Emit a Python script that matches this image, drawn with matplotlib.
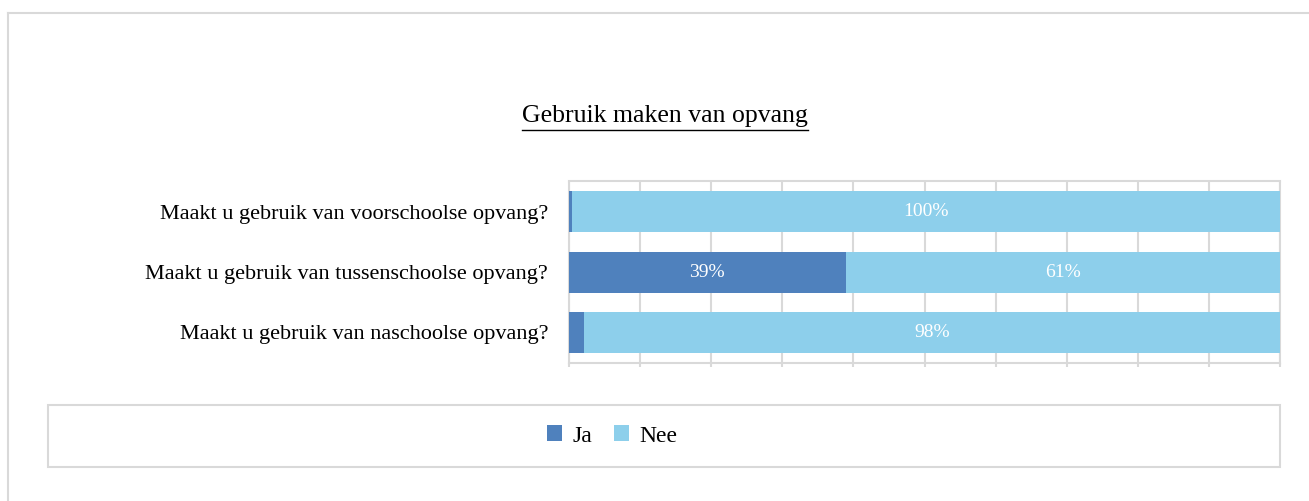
import matplotlib.pyplot as plt
from matplotlib.lines import Line2D
from matplotlib.patches import Rectangle

plt.rcParams['font.family'] = ['Liberation Serif', 'DejaVu Serif']

vragen = ['Maakt u gebruik van voorschoolse opvang?',
          'Maakt u gebruik van tussenschoolse opvang?',
          'Maakt u gebruik van naschoolse opvang?']
ja = [0.4, 38.9, 2.1]
nee = [99.6, 61.1, 97.9]
series = ['Ja', 'Nee']
kleuren = ['#4F81BD', '#8DCFEB']
grijs = '#D9D9D9'

W, H = 1309, 501
fig = plt.figure(figsize=(W / 100, H / 100), dpi=100)

def fx(px):
    return px / W

def fy(py):
    return 1 - py / H

# buitenrand (alleen links en boven zichtbaar)
fig.add_artist(Line2D([fx(7.5), fx(7.5)], [fy(13), 0], color=grijs, lw=1.5))
fig.add_artist(Line2D([fx(7.5), 1], [fy(13), fy(13)], color=grijs, lw=1.5))

ax = fig.add_axes([fx(569), fy(362.7), fx(1280) - fx(569), fy(181.5) - fy(362.7)])
y = list(range(len(vragen)))
ax.barh(y, ja, height=0.68, color=kleuren[0], label=series[0], zorder=3)
ax.barh(y, nee, left=ja, height=0.68, color=kleuren[1], label=series[1], zorder=3)

for i in y:
    for start, w in ((0, ja[i]), (ja[i], nee[i])):
        if w >= 5:
            ax.text(start + w / 2, i, f'{round(w)}%', ha='center', va='center',
                    color='white', fontsize=14, zorder=4)

ax.set_xlim(0, 100)
ax.set_ylim(2.5, -0.5)
ax.set_xticks(range(0, 101, 10))
ax.set_xticklabels([])
ax.tick_params(axis='x', length=3, color=grijs, width=1.5)
ax.grid(axis='x', color=grijs, lw=1.5, zorder=0)
ax.set_yticks(y)
ax.set_yticklabels(vragen, fontsize=16)
ax.tick_params(axis='y', length=0, pad=15)
for s in ax.spines.values():
    s.set_color(grijs)
    s.set_linewidth(1.5)

# titel met onderstreping
titel = fig.text(fx(665), fy(116), 'Gebruik maken van opvang', ha='center', va='center',
                 fontsize=18.5)
fig.canvas.draw()
bb = titel.get_window_extent()
fig.add_artist(Line2D([bb.x0 / W, bb.x1 / W], [fy(129.5), fy(129.5)], color='black', lw=1))

# legenda-kader
fig.add_artist(Rectangle((fx(48), fy(467)), fx(1280) - fx(48), fy(405) - fy(467),
                         fill=False, edgecolor=grijs, lw=1.5))
h, l = ax.get_legend_handles_labels()
fig.legend(h, l, loc='center', bbox_to_anchor=(fx(612), fy(436)), ncol=2, frameon=False,
           fontsize=17, handlelength=0.65, handleheight=0.65, handletextpad=0.45,
           columnspacing=0.9)

fig.savefig('out.png', dpi=100)
